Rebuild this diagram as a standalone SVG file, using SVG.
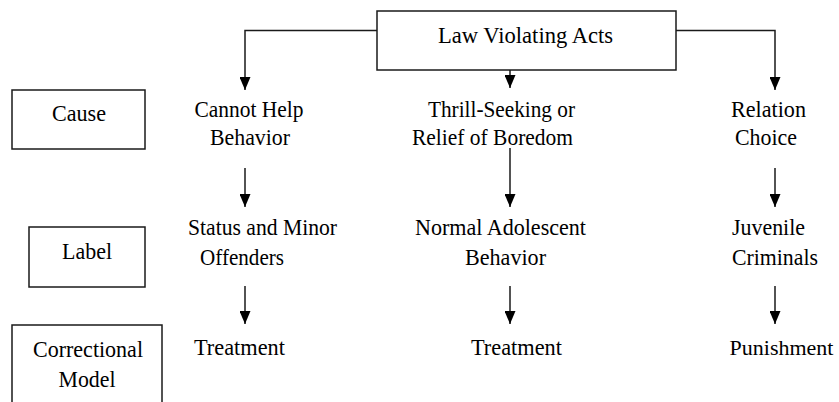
<svg xmlns="http://www.w3.org/2000/svg" width="839" height="402" viewBox="0 0 839 402">
  <defs>
    <style>
      .box { fill: #ffffff; stroke: #1a1a1a; stroke-width: 1.5; }
      .line { fill: none; stroke: #1a1a1a; stroke-width: 1.5; }
      text { font-family: "Liberation Serif", "Times New Roman", serif; font-size: 24px; fill: #000000; text-anchor: middle; }
    </style>
    <marker id="arrowDown" markerUnits="userSpaceOnUse" markerWidth="11" markerHeight="14" refX="5.5" refY="13" orient="0" viewBox="0 0 11 14">
      <path d="M0,0 L11,0 L5.5,13 Z" fill="#000000"/>
    </marker>
  </defs>

  <rect width="839" height="402" fill="#ffffff"/>

  <!-- connectors -->
  <g id="connectors">
    <path class="line" d="M377,30.5 H245 V90" marker-end="url(#arrowDown)"/>
    <path class="line" d="M676,30.5 H775 V90" marker-end="url(#arrowDown)"/>
    <path class="line" d="M510,70 V88" marker-end="url(#arrowDown)"/>
    <path class="line" d="M245,168 V207" marker-end="url(#arrowDown)"/>
    <path class="line" d="M510,148 V207" marker-end="url(#arrowDown)"/>
    <path class="line" d="M775,168 V207" marker-end="url(#arrowDown)"/>
    <path class="line" d="M245,286 V324" marker-end="url(#arrowDown)"/>
    <path class="line" d="M510,286 V324" marker-end="url(#arrowDown)"/>
    <path class="line" d="M775,286 V324" marker-end="url(#arrowDown)"/>
  </g>

  <!-- root -->
  <g id="law-violating-acts">
    <rect class="box" x="377" y="11" width="299" height="59"/>
    <text x="525.5" y="43" textLength="175" lengthAdjust="spacingAndGlyphs">Law Violating Acts</text>
  </g>

  <!-- row headings -->
  <g id="heading-cause">
    <rect class="box" x="12" y="90" width="133" height="59"/>
    <text x="79" y="121" textLength="54" lengthAdjust="spacingAndGlyphs">Cause</text>
  </g>
  <g id="heading-label">
    <rect class="box" x="29" y="227" width="116" height="60"/>
    <text x="87" y="259" textLength="50" lengthAdjust="spacingAndGlyphs">Label</text>
  </g>
  <g id="heading-correctional-model">
    <rect class="box" x="12" y="325" width="150" height="90"/>
    <text x="88" y="357" textLength="110" lengthAdjust="spacingAndGlyphs">Correctional</text>
    <text x="87" y="387" textLength="57" lengthAdjust="spacingAndGlyphs">Model</text>
  </g>

  <!-- left column -->
  <g id="cannot-help-behavior">
    <text x="249" y="117" textLength="109" lengthAdjust="spacingAndGlyphs">Cannot Help</text>
    <text x="250" y="145" textLength="80" lengthAdjust="spacingAndGlyphs">Behavior</text>
  </g>
  <g id="status-minor-offenders">
    <text x="262.5" y="235" textLength="149" lengthAdjust="spacingAndGlyphs">Status and Minor</text>
    <text x="242" y="265" textLength="84" lengthAdjust="spacingAndGlyphs">Offenders</text>
  </g>
  <g id="treatment-left">
    <text x="239.5" y="355" textLength="91" lengthAdjust="spacingAndGlyphs">Treatment</text>
  </g>

  <!-- middle column -->
  <g id="thrill-seeking">
    <text x="501.5" y="117" textLength="147" lengthAdjust="spacingAndGlyphs">Thrill-Seeking or</text>
    <text x="492.5" y="145" textLength="161" lengthAdjust="spacingAndGlyphs">Relief of Boredom</text>
  </g>
  <g id="normal-adolescent-behavior">
    <text x="500.5" y="235" textLength="171" lengthAdjust="spacingAndGlyphs">Normal Adolescent</text>
    <text x="505.5" y="265" textLength="81" lengthAdjust="spacingAndGlyphs">Behavior</text>
  </g>
  <g id="treatment-middle">
    <text x="516.5" y="355" textLength="91" lengthAdjust="spacingAndGlyphs">Treatment</text>
  </g>

  <!-- right column -->
  <g id="relation-choice">
    <text x="768.5" y="117" textLength="75" lengthAdjust="spacingAndGlyphs">Relation</text>
    <text x="766" y="145" textLength="62" lengthAdjust="spacingAndGlyphs">Choice</text>
  </g>
  <g id="juvenile-criminals">
    <text x="768.5" y="235" textLength="73" lengthAdjust="spacingAndGlyphs">Juvenile</text>
    <text x="775" y="265" textLength="86" lengthAdjust="spacingAndGlyphs">Criminals</text>
  </g>
  <g id="punishment">
    <text x="781.5" y="355" style="font-size:22px">Punishment</text>
  </g>
</svg>
